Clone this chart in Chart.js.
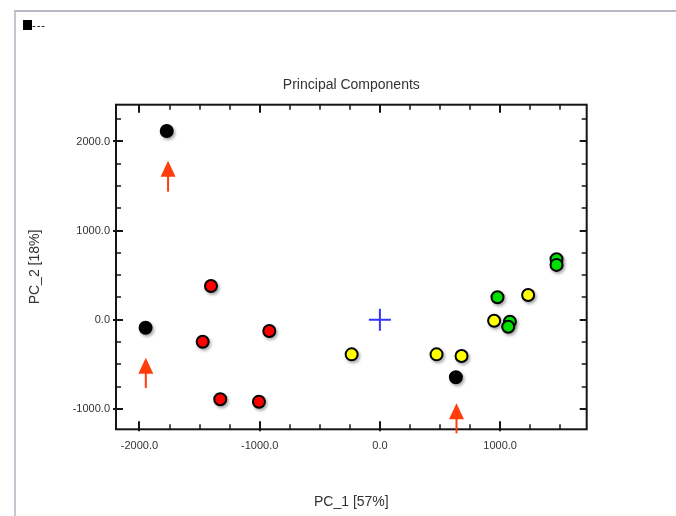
<!DOCTYPE html>
<html>
<head>
<meta charset="utf-8">
<script src="https://cdn.jsdelivr.net/npm/chart.js@4.4.1/dist/chart.umd.min.js"></script>
<style>
  html, body { margin: 0; padding: 0; background: #fff; }
  #wrap { position: relative; width: 676px; height: 516px; overflow: hidden; background: #fff; }
  #frame {
    position: absolute; left: 14px; top: 10px; width: 700px; height: 540px;
    border-top: 2px solid #b5b9c5; border-left: 2px solid #c3c7d2;
  }
  #tag {
    position: absolute; left: 23px; top: 19px;
    font: 11px "Liberation Sans", Arial, sans-serif; color: #000; letter-spacing: 1px;
  }
  #tag span { display: inline-block; width: 9px; height: 10px; background: #000; vertical-align: -1px; margin-right: 0; }
  #chart { position: absolute; left: 0; top: 0; }
</style>
</head>
<body>
<div id="wrap">
  <div id="frame"></div>
  <div id="tag"><span></span>---</div>
  <canvas id="chart" width="676" height="516"></canvas>
</div>
<script>
// PCA scores
const blackX = [-1773, -1949, 632]
const blackY = [2118, -90, -646]
const redX = [-1405, -1474, -920, -1328, -1006]
const redY = [378, -247, -127, -893, -920]
const yellowX = [-235, 471, 679, 950, 1233]
const yellowY = [-389, -389, -408, -11, 278]
const greenX = [978, 1081, 1067, 1469, 1469]
const greenY = [252, -22, -79, 679, 615]
const originX = [0]
const originY = [0]

// arrows pointing at the black samples
const arrowX = [-1762, -1947, 637]
const arrowTipY = [1785, -426, -938]
const arrowTailY = [1437, -767, -1275]

// axes
const xRange = [-2195, 1720]
const yRange = [-1230, 2413]
const xTickValues = [-2000, -1750, -1500, -1250, -1000, -750, -500, -250, 0, 250, 500, 750, 1000, 1250, 1500]
const yTickValues = [-1000, -750, -500, -250, 0, 250, 500, 750, 1000, 1250, 1500, 1750, 2000, 2250]
const xLabelValues = [-2000, -1000, 0, 1000]
const yLabelValues = [-1000, 0, 1000, 2000]

const font = "'Liberation Sans', Arial, sans-serif"

const toPoints = (xs, ys) => xs.map((x, i) => ({ x, y: ys[i] }))

const circleSet = (xs, ys, color, border) => ({
  data: toPoints(xs, ys),
  pointRadius: 6,
  pointBorderWidth: 2,
  pointBackgroundColor: color,
  pointBorderColor: border,
  shadow: true
})

// soft grey shadow under each marker
const shadows = {
  id: "shadows",
  beforeDatasetsDraw(chart) {
    const ctx = chart.ctx
    ctx.save()
    ctx.filter = "blur(1.5px)"
    ctx.fillStyle = "rgba(0, 0, 0, 0.35)"
    chart.data.datasets.forEach((ds, i) => {
      if (!ds.shadow) return
      chart.getDatasetMeta(i).data.forEach(pt => {
        ctx.beginPath()
        ctx.arc(pt.x + 1.5, pt.y + 2, 7, 0, Math.PI * 2)
        ctx.fill()
      })
    })
    ctx.restore()
  }
}

// box frame with inward ticks on all four sides
const frameTicks = {
  id: "frameTicks",
  beforeDatasetsDraw(chart) {
    const { ctx, chartArea: a, scales: { x, y } } = chart
    ctx.save()
    ctx.strokeStyle = "#151515"
    ctx.lineWidth = 2
    ctx.strokeRect(a.left, a.top, a.right - a.left, a.bottom - a.top)

    xTickValues.forEach(v => {
      const px = Math.round(x.getPixelForValue(v))
      const major = xLabelValues.includes(v)
      const len = major ? 8 : 5
      ctx.lineWidth = major ? 2 : 1.5
      ctx.beginPath()
      ctx.moveTo(px, a.bottom + (major ? 2 : 0)); ctx.lineTo(px, a.bottom - len)
      ctx.moveTo(px, a.top); ctx.lineTo(px, a.top + len)
      ctx.stroke()
    })
    yTickValues.forEach(v => {
      const py = Math.round(y.getPixelForValue(v))
      const major = yLabelValues.includes(v)
      const len = major ? 7 : 5
      ctx.lineWidth = major ? 2 : 1.5
      ctx.beginPath()
      ctx.moveTo(a.left - (major ? 3 : 0), py); ctx.lineTo(a.left + len, py)
      ctx.moveTo(a.right, py); ctx.lineTo(a.right - len, py)
      ctx.stroke()
    })
    ctx.restore()
  }
}

const arrows = {
  id: "arrows",
  afterDatasetsDraw(chart) {
    const { ctx, scales: { x, y } } = chart
    ctx.save()
    ctx.fillStyle = "#ff3d0d"
    ctx.strokeStyle = "#ff3d0d"
    arrowX.forEach((v, i) => {
      const px = x.getPixelForValue(v)
      const tip = y.getPixelForValue(arrowTipY[i])
      const tail = y.getPixelForValue(arrowTailY[i])
      ctx.beginPath()
      ctx.moveTo(px, tip)
      ctx.lineTo(px - 7.5, tip + 16)
      ctx.lineTo(px + 7.5, tip + 16)
      ctx.closePath()
      ctx.fill()
      ctx.lineWidth = 2
      ctx.beginPath()
      ctx.moveTo(px, tip + 15)
      ctx.lineTo(px, tail)
      ctx.stroke()
    })
    ctx.restore()
  }
}

new Chart(document.getElementById("chart"), {
  type: "scatter",
  data: {
    datasets: [
      circleSet(blackX, blackY, "#000000", "#000000"),
      circleSet(greenX, greenY, "#00e000", "#000000"),
      circleSet(yellowX, yellowY, "#ffff00", "#000000"),
      circleSet(redX, redY, "#ff0000", "#000000"),
      {
        data: toPoints(originX, originY),
        pointStyle: "cross",
        pointRadius: 11,
        pointBorderWidth: 2,
        pointBorderColor: "#3535ff"
      }
    ]
  },
  options: {
    responsive: false,
    animation: false,
    events: [],
    layout: { padding: { left: 26.6, right: 89.3, top: 0, bottom: 5.8 } },
    plugins: {
      legend: { display: false },
      tooltip: { enabled: false },
      title: {
        display: true,
        fullSize: false,
        text: "Principal Components",
        color: "#333",
        font: { family: font, size: 14, weight: "normal" },
        padding: { top: 77.1, bottom: 10.8 }
      }
    },
    scales: {
      x: {
        type: "linear",
        min: xRange[0],
        max: xRange[1],
        grid: { display: false, drawTicks: false },
        border: { display: false },
        afterBuildTicks: s => { s.ticks = xTickValues.map(value => ({ value })) },
        afterFit: s => { s.height = 80.9 },
        ticks: {
          autoSkip: false,
          maxRotation: 0,
          padding: 10,
          color: "#333",
          font: { family: font, size: 11 },
          callback: v => xLabelValues.includes(v) ? v.toFixed(1) : ""
        },
        title: {
          display: true,
          text: "PC_1 [57%]",
          color: "#333",
          padding: 0,
          font: { family: font, size: 14 }
        }
      },
      y: {
        type: "linear",
        min: yRange[0],
        max: yRange[1],
        grid: { display: false, drawTicks: false },
        border: { display: false },
        afterBuildTicks: s => { s.ticks = yTickValues.map(value => ({ value })) },
        afterFit: s => { s.width = 89.4 },
        ticks: {
          autoSkip: false,
          padding: 6,
          color: "#333",
          font: { family: font, size: 11 },
          callback: v => yLabelValues.includes(v) ? v.toFixed(1) : ""
        },
        title: {
          display: true,
          text: "PC_2 [18%]",
          color: "#333",
          padding: 0,
          font: { family: font, size: 14 }
        }
      }
    }
  },
  plugins: [shadows, frameTicks, arrows]
})
</script>
</body>
</html>
